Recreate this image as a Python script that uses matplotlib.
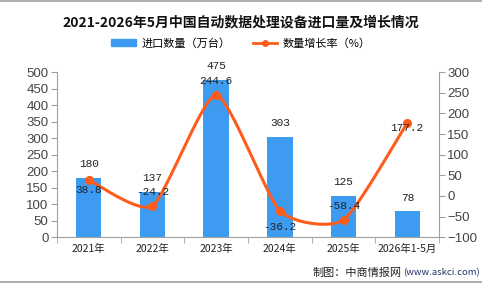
import numpy as np
import matplotlib
matplotlib.use('Agg')
import matplotlib.pyplot as plt
from matplotlib.lines import Line2D
from matplotlib.patches import Patch

plt.rcParams['font.family'] = ['Noto Sans CJK SC', 'DejaVu Sans']

categories = ['2021年', '2022年', '2023年', '2024年', '2025年', '2026年1-5月']
imports = [180, 137, 475, 303, 125, 78]
growth = [38.8, -24.2, 244.6, -36.2, -58.4, 177.2]
# where each growth label sits relative to its point: (dx, dy) in points
growth_offsets = [(0, -7), (0, 10), (0, 10), (0, -11.5), (0, 10), (0, -3.6)]

bar_color = '#3d9cf1'
line_color = '#ff5c1c'
grey = '#a0a0a0'


def smooth_line(x, y, f=0.1, n=40):
    # cubic bezier through the points, catmull-rom style tangents (drawing only)
    p = np.column_stack([x, y]).astype(float)
    k = len(p)
    xs, ys = [], []
    for i in range(k - 1):
        p0, p3 = p[i], p[i + 1]
        prev = p[i - 1] if i > 0 else p[i]
        nxt = p[i + 2] if i + 2 < k else p[i + 1]
        c1 = p0 + (p3 - prev) * f
        c2 = p3 - (nxt - p0) * f
        t = np.linspace(0, 1, n)[:, None]
        b = ((1 - t) ** 3) * p0 + 3 * ((1 - t) ** 2) * t * c1 \
            + 3 * (1 - t) * t ** 2 * c2 + t ** 3 * p3
        xs.append(b[:, 0])
        ys.append(b[:, 1])
    return np.concatenate(xs), np.concatenate(ys)


fig = plt.figure(figsize=(4.82, 2.84), dpi=100)
ax = fig.add_axes([0.118, 0.165, 0.793, 0.581])
ax2 = ax.twinx()

x = np.arange(len(categories))
ax.bar(x, imports, width=0.4, color=bar_color, zorder=2)
for xi, v in zip(x, imports):
    ax.annotate(str(v), (xi, v), xytext=(0, 10), textcoords='offset points',
                ha='center', va='center', fontsize=8, color='#222222',
                family=['Liberation Mono', 'DejaVu Sans Mono'])

sx, sy = smooth_line(x, growth)
ax2.plot(sx, sy, color=line_color, lw=2.2, zorder=3)
ax2.plot(x, growth, 'o', color=line_color, ms=5.5, zorder=4)
for xi, v, (dx, dy) in zip(x, growth, growth_offsets):
    ax2.annotate(f'{v:g}', (xi, v), xytext=(dx, dy), textcoords='offset points',
                 ha='center', va='center', fontsize=8, color='#222222',
                 family=['Liberation Mono', 'DejaVu Sans Mono'], zorder=5)

ax.set_xlim(-0.5, len(categories) - 0.5)
ax.set_ylim(0, 500)
ax.set_yticks(range(0, 501, 50))
ax2.set_ylim(-100, 300)
ax2.set_yticks(range(-100, 301, 50))

ax.set_xticks(x)
ax.set_xticklabels(categories, fontsize=7.5, color='#222222')
ax.set_xticks(np.arange(-0.5, len(categories), 1), minor=True)
ax.tick_params(axis='x', which='major', length=0, pad=5)
ax.tick_params(axis='x', which='minor', length=4, color=grey)

for a in (ax, ax2):
    a.tick_params(axis='y', labelsize=9.5, colors='#444444', length=4, pad=2)
    a.tick_params(axis='y', color=grey)
    for lab in a.get_yticklabels():
        lab.set_family(['Liberation Sans', 'DejaVu Sans'])
    a.spines['top'].set_visible(False)
    for s in ('left', 'right', 'bottom'):
        a.spines[s].set_color(grey)
ax.spines['right'].set_visible(False)
ax2.spines['left'].set_visible(False)
ax2.spines['bottom'].set_visible(False)

fig.text(0.5, 0.922, '2021-2026年5月中国自动数据处理设备进口量及增长情况',
         ha='center', va='center', fontsize=10, fontweight='bold', color='#111111')

handles = [Patch(color=bar_color, label='进口数量（万台）'),
           Line2D([], [], color=line_color, lw=2, marker='o', ms=4,
                  label='数量增长率（%）')]
fig.legend(handles=handles, loc='center', bbox_to_anchor=(0.5, 0.848), ncol=2,
           frameon=False, fontsize=8, handlelength=2.2, handleheight=0.6,
           columnspacing=2.0, handletextpad=0.5)

url = fig.text(0.996, 0.039, '(www.askci.com)', ha='right', va='center',
               fontsize=6.8, color='#223366')
fig.add_artist(plt.Annotation('制图：中商情报网', xy=(0, 0.5), xycoords=url,
                              xytext=(-1, 0), textcoords='offset points',
                              ha='right', va='center', fontsize=8,
                              color='#222222'))

fig.add_artist(Line2D([0, 1], [0.997, 0.997], color=grey, lw=1.2))
fig.add_artist(Line2D([0, 1], [0.007, 0.007], color=grey, lw=1.2))

fig.savefig('out.png', dpi=100)
